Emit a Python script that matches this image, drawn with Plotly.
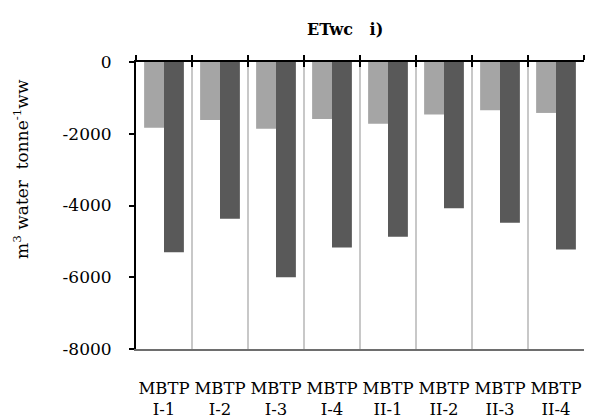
import plotly.graph_objects as go

sites = ["MBTP<br>I-1", "MBTP<br>I-2", "MBTP<br>I-3", "MBTP<br>I-4",
         "MBTP<br>II-1", "MBTP<br>II-2", "MBTP<br>II-3", "MBTP<br>II-4"]
etwc_light = [-1830, -1620, -1860, -1590, -1720, -1460, -1345, -1420]
etwc_dark = [-5300, -4370, -6000, -5170, -4870, -4075, -4480, -5225]

y_ticks = [0, -2000, -4000, -6000, -8000]
y_ticktext = [str(v) for v in y_ticks]  # plain hyphen, like the original

FONT = "DejaVu Serif"

fig = go.Figure()

fig.add_trace(go.Bar(x=sites, y=etwc_light, marker=dict(color="#a5a5a5", line=dict(width=0)),
                     name="light", showlegend=False))
fig.add_trace(go.Bar(x=sites, y=etwc_dark, marker=dict(color="#595959", line=dict(width=0)),
                     name="dark", showlegend=False))

# invisible helpers so the top axes know the categories (crossing tick marks)
for ax in ("x2", "x3"):
    fig.add_trace(go.Scatter(x=sites, y=[0] * len(sites), xaxis=ax, yaxis="y",
                             mode="markers", marker=dict(opacity=0),
                             hoverinfo="skip", showlegend=False))

fig.update_layout(
    width=591,
    height=419,
    margin=dict(l=136, r=7, t=62, b=70, autoexpand=False),
    paper_bgcolor="white",
    plot_bgcolor="white",
    barmode="group",
    bargap=0.29,
    bargroupgap=0,
    font=dict(family=FONT, size=16, color="black"),
    title=dict(text="<b>ETwc   i)</b>", x=0.584, xanchor="center", y=0.93,
               yanchor="middle", font=dict(family=FONT, size=16)),
    xaxis=dict(
        type="category",
        categoryarray=sites,
        side="bottom",
        tickson="boundaries",
        ticks="",
        tickangle=0,
        automargin=False,
        showgrid=True,
        gridcolor="#c8c8c8",
        gridwidth=1.5,
        showline=True,
        linecolor="#6e6e6e",
        linewidth=2,
        tickfont=dict(family=FONT, size=16.5),
        ticklabelstandoff=23,
    ),
    xaxis2=dict(
        type="category", categoryarray=sites, overlaying="x", matches="x",
        side="top", anchor="y", tickson="boundaries", ticks="outside", ticklen=5,
        tickwidth=1.5, tickcolor="black", showticklabels=False, showgrid=False,
        showline=True, linecolor="black", linewidth=2,
    ),
    xaxis3=dict(
        type="category", categoryarray=sites, overlaying="x", matches="x",
        side="top", anchor="y", tickson="boundaries", ticks="inside", ticklen=5,
        tickwidth=1.5, tickcolor="black", showticklabels=False, showgrid=False,
        showline=False,
    ),
    yaxis=dict(
        range=[-8000, 0],
        tickvals=y_ticks,
        ticktext=y_ticktext,
        ticks="outside",
        ticklen=5,
        tickwidth=1.5,
        tickcolor="black",
        showgrid=False,
        zeroline=False,
        showline=True,
        linecolor="black",
        linewidth=2,
        automargin=False,
        tickfont=dict(family=FONT, size=17),
        ticklabelstandoff=14,
    ),
    yaxis2=dict(
        range=[-8000, 0], tickvals=y_ticks, overlaying="y", anchor="x", side="left",
        ticks="inside", ticklen=5, tickwidth=1.5, tickcolor="black",
        showticklabels=False, showgrid=False, zeroline=False, showline=False,
    ),
    yaxis3=dict(
        range=[-8000, 0], overlaying="y", anchor="x", side="right",
        ticks="", showticklabels=False, showgrid=False, zeroline=False,
        showline=True, linecolor="#6e6e6e", linewidth=2,
    ),
)

# y title sits above centre in the original, so place it as an annotation
fig.add_annotation(
    text="m<sup>3</sup> water  tonne<sup>-1</sup>ww",
    xref="paper", yref="paper", x=-0.257, y=0.627,
    xanchor="center", yanchor="middle", textangle=-90, showarrow=False,
    font=dict(family=FONT, size=17),
)

fig.write_html("out.html", config={"displayModeBar": False},
               post_script="document.body.style.margin='0';")
